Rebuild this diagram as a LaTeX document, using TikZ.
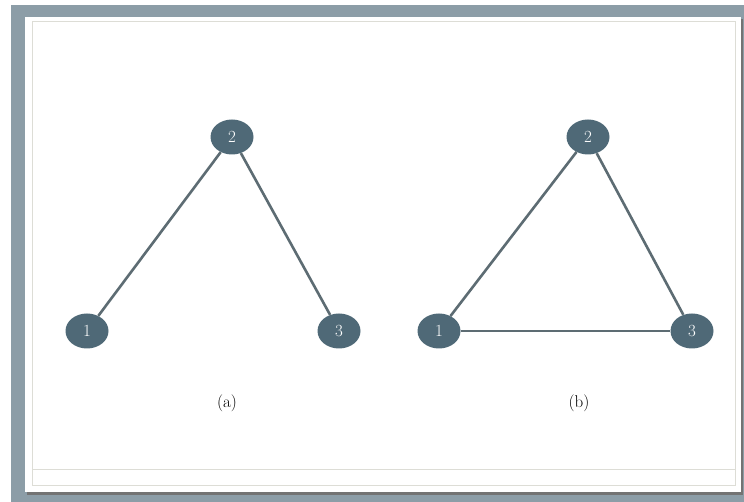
\documentclass[tikz,border=0pt]{standalone}
\usepackage{tikz}
\usetikzlibrary{positioning, shapes.geometric}

\definecolor{framegray}{HTML}{8C9DA7}
\definecolor{nodeblue}{HTML}{4F6977}
\definecolor{edgegray}{HTML}{5D6C73}
\definecolor{linegray}{HTML}{DDDDD6}

\begin{document}
\begin{tikzpicture}[x=1pt, y=-1pt,
  vertex/.style={ellipse, fill=nodeblue, text=white, minimum width=43pt, minimum height=35pt, inner sep=0pt, font=\fontsize{17}{20}\selectfont},
  edge/.style={draw=edgegray, line width=2.6pt},
  caption/.style={font=\fontsize{17}{20}\selectfont}]
  % frame and panel
  \useasboundingbox (0,0) rectangle (744,502);
  \fill[white] (0,0) rectangle (744,502);
  \fill[framegray] (11,5) rectangle (744,502);
  \fill[black!55] (27,19) rectangle (743,495);
  \fill[white] (25,17) rectangle (741,492);
  \draw[linegray, line width=1pt] (32,22) rectangle (735,485);
  \draw[linegray, line width=1pt] (32,469) -- (735,469);

  % (a)
  \node[vertex] (a2) at (232,137) {2};
  \node[vertex] (a1) at (87,331) {1};
  \node[vertex] (a3) at (339,331) {3};
  \draw[edge] (a1) -- (a2);
  \draw[edge] (a2) -- (a3);
  \node[caption] (capa) at (227,403) {(a)};

  % (b)
  \node[vertex] (b2) at (588,137) {2};
  \node[vertex] (b1) at (439,331) {1};
  \node[vertex] (b3) at (692,331) {3};
  \draw[edge] (b1) -- (b2);
  \draw[edge] (b2) -- (b3);
  \draw[edge] (b1) -- (b3);
  \node[caption] (capb) at (579,403) {(b)};
\end{tikzpicture}
\end{document}
